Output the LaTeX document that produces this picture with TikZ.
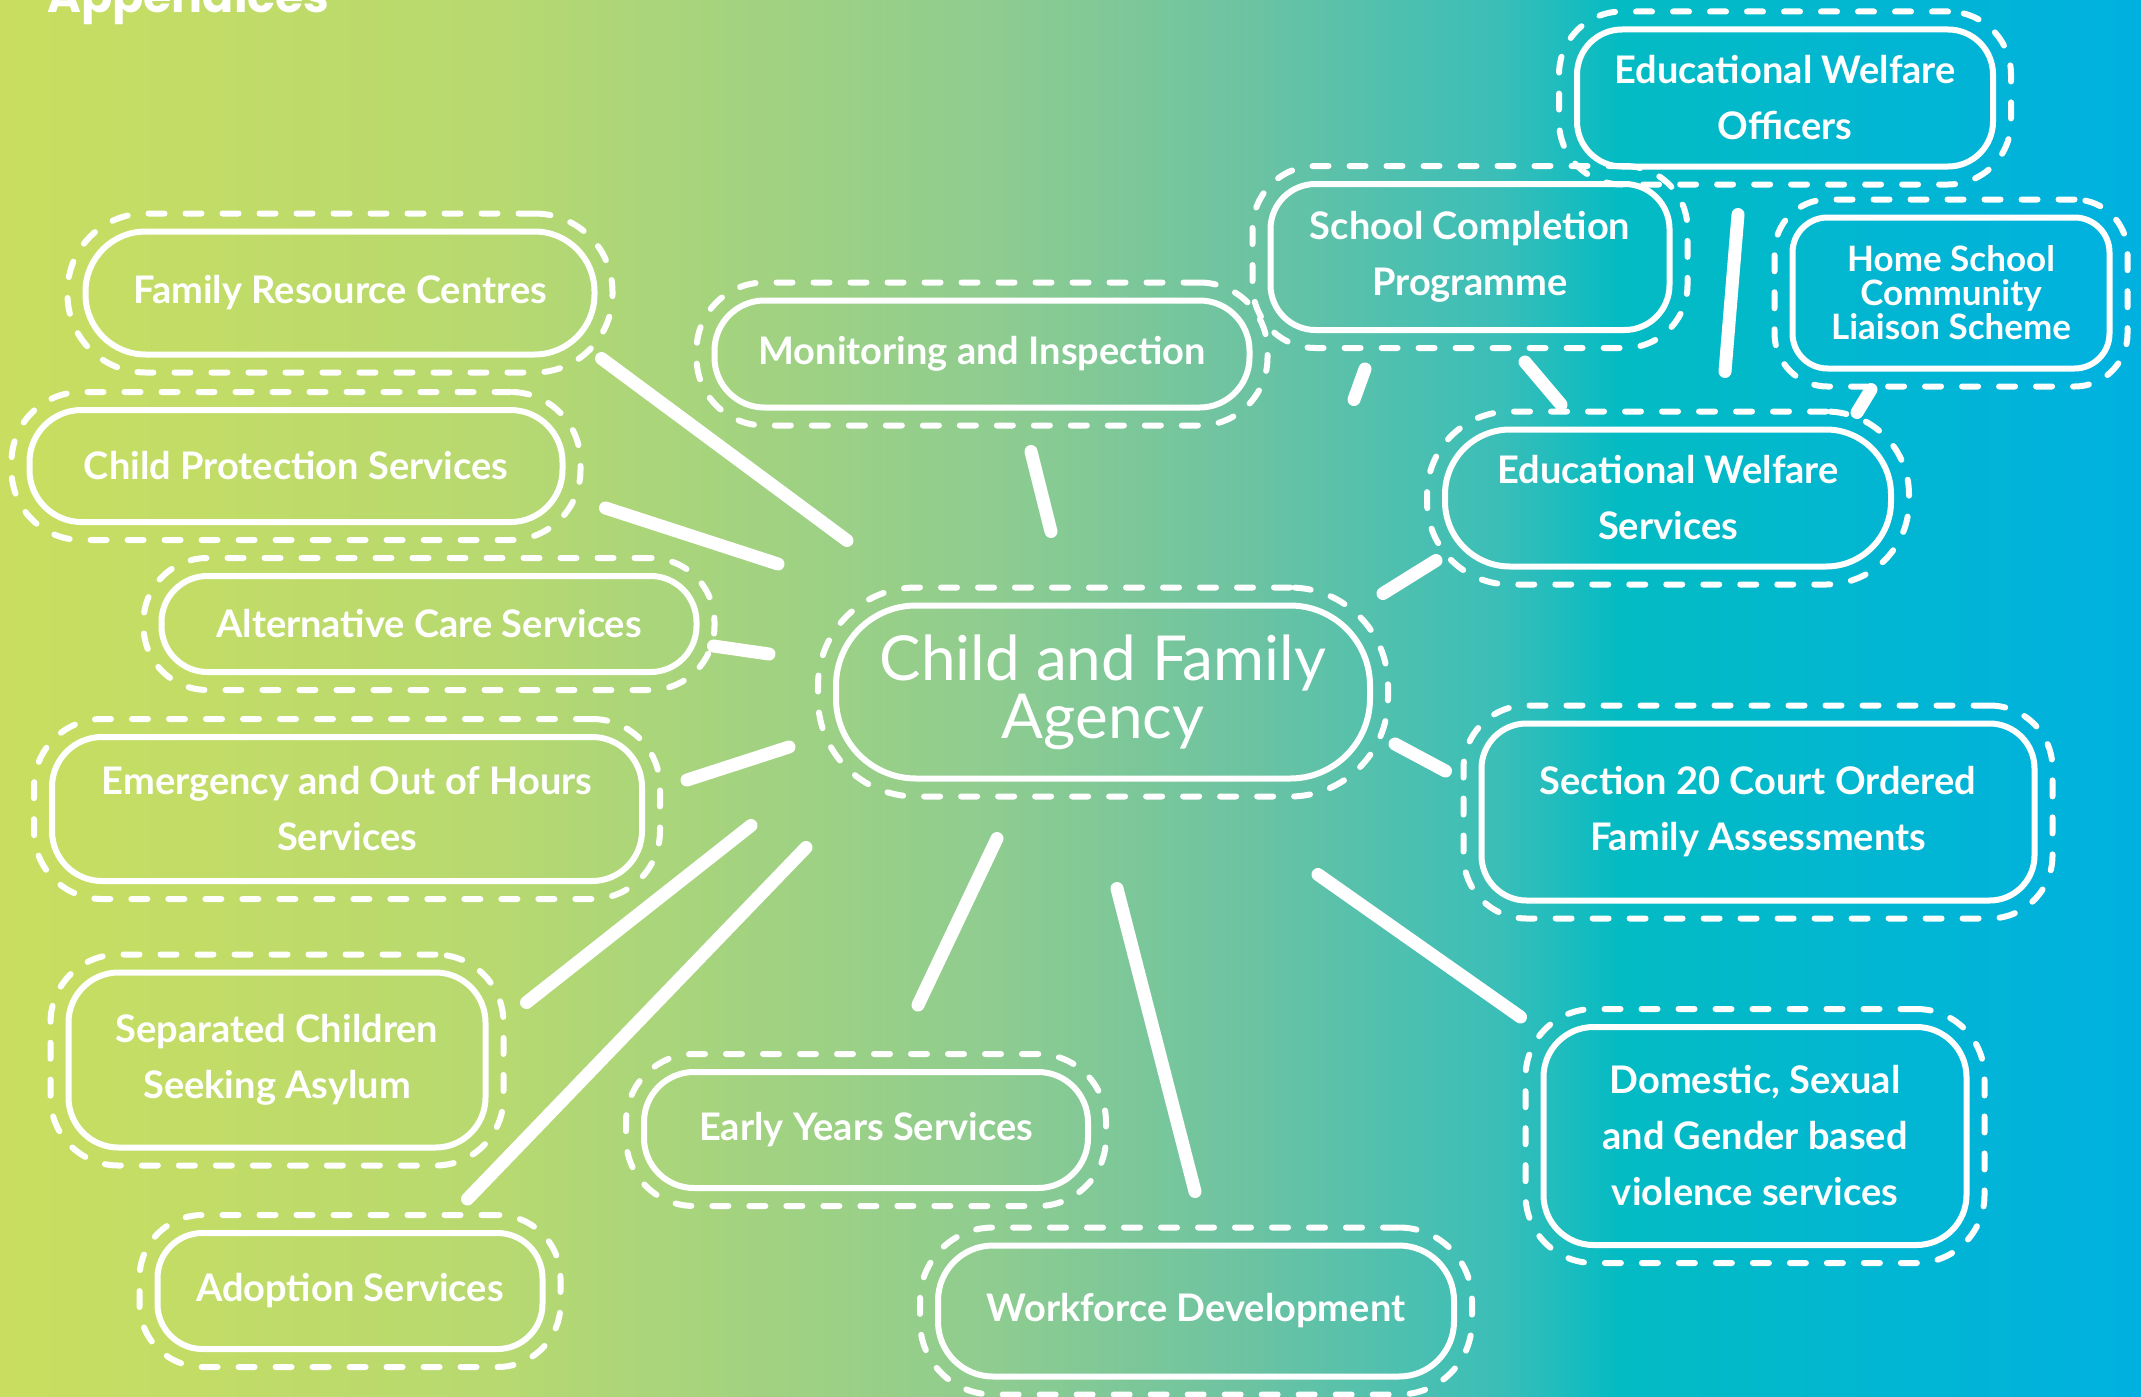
\documentclass[tikz,border=0pt]{standalone}
\usepackage{fontspec}
\setmainfont{Lato}
\newfontfamily\titlefont{Poppins}
\usetikzlibrary{fit}
\definecolor{g0}{RGB}{201,222,96}
\definecolor{g1}{RGB}{183,217,112}
\definecolor{g2}{RGB}{142,204,144}
\definecolor{g3}{RGB}{108,195,162}
\definecolor{g4}{RGB}{58,190,184}
\definecolor{g5}{RGB}{3,187,195}
\definecolor{g6}{RGB}{0,177,224}
\pgfdeclarehorizontalshading{bgshade}{100bp}{color(0bp)=(g0); color(25bp)=(g0); color(36.68bp)=(g1); color(48.35bp)=(g2); color(54.19bp)=(g3); color(60.03bp)=(g4); color(62.83bp)=(g5); color(75bp)=(g6); color(100bp)=(g6)}
\newcommand\nodefont{\bfseries\fontsize{38}{56}\selectfont}
\newcommand\bub[7][]{%
  \node[bubin,minimum width=#4,minimum height=#5,rounded corners=#6,#1] (#2) at (#3) {#7};
  \node[bubout,rounded corners=#6+18pt,fit=(#2)] (#2-ring) {};
}
\tikzset{
  bubin/.style={draw=white, line width=6pt, text=white, align=center, inner sep=0pt, outer sep=0pt, font=\nodefont},
  bubout/.style={draw=white, line width=6pt, dash pattern=on 16pt off 21pt, line cap=round, inner sep=18pt, outer sep=0pt},
  link/.style={draw=white, line width=13pt, line cap=round},
}
\begin{document}
\begin{tikzpicture}[x=1pt,y=-1pt]
\useasboundingbox (0,0) rectangle (2141,1397);
\clip (0,0) rectangle (2141,1397);
\shade[shading=bgshade] (0,0) rectangle (2141,1397);
\node[anchor=base west, text=white, inner sep=0pt, font=\titlefont\bfseries\fontsize{46}{46}\selectfont] (title) at (47,13) {Appendices};

\bub[font=\fontsize{62}{58}\selectfont]{cfa}{1103,692}{534pt}{173pt}{80pt}{Child and Family\\Agency}
\bub{frc}{340,293}{509pt}{123pt}{60pt}{Family Resource Centres}
\bub{cps}{296,466}{533pt}{112pt}{52pt}{Child Protection Services}
\bub{acs}{429,624}{535pt}{96pt}{46pt}{Alternative Care Services}
\bub{eoh}{347,809}{590pt}{144pt}{50pt}{Emergency and Out of Hours\\Services}
\bub{sca}{277,1060}{417pt}{175pt}{50pt}{Separated Children\\Seeking Asylum}
\bub{ads}{350,1291}{385pt}{116pt}{45pt}{Adoption Services}
\bub{eys}{866,1130}{444pt}{116pt}{50pt}{Early Years Services}
\bub{wfd}{1196,1311}{516pt}{131pt}{55pt}{Workforce Development}
\bub{mai}{982,354}{535pt}{107pt}{50pt}{Monitoring and Inspection}
\bub{scp}{1470,257}{399pt}{146pt}{45pt}{School Completion\\Programme}
\bub{ewo}{1785,98}{416pt}{137pt}{45pt}{Educational Welfare\\Officers}
\bub[font=\bfseries\fontsize{35}{34}\selectfont]{hsc}{1951,293}{317pt}{151pt}{35pt}{Home School\\Community\\Liaison Scheme}
\bub{ews}{1668,498}{446pt}{137pt}{65pt}{Educational Welfare\\Services}
\bub{s20}{1758,812}{553pt}{177pt}{45pt}{Section 20 Court Ordered\\Family Assessments}
\bub{dsg}{1755,1136}{423pt}{218pt}{50pt}{Domestic, Sexual\\and Gender based\\violence services}

\draw[link] ([shift={(7,4)}]frc.south east) -- ([shift={(11,-65)}]cfa.north west);
\draw[link] ([shift={(43,42)}]cps.east) -- ([shift={(-58,-128)}]cfa.west);
\draw[link] ([shift={(17,22)}]acs.east) -- ([shift={(-67,-38)}]cfa.west);
\draw[link] ([shift={(45,-29)}]eoh.east) -- ([shift={(-47,55)}]cfa.west);
\draw[link] ([shift={(41,30)}]sca.north east) -- ([shift={(-85,47)}]cfa.south west);
\draw[link] ([shift={(-75,-34)}]ads.north east) -- ([shift={(-30,69)}]cfa.south west);
\draw[link] ([shift={(52,-67)}]eys.north) -- ([shift={(-106,60)}]cfa.south);
\draw[link] ([shift={(-1,-54)}]wfd.north) -- ([shift={(14,110)}]cfa.south);
\draw[link] ([shift={(49,44)}]mai.south) -- ([shift={(-52,-74)}]cfa.north);
\draw[link] ([shift={(-9,-6)}]ews.south west) -- ([shift={(13,-12)}]cfa.north east);
\draw[link] ([shift={(-36,-41)}]s20.west) -- ([shift={(25,52)}]cfa.east);
\draw[link] ([shift={(-23,-10)}]dsg.north west) -- ([shift={(-52,96)}]cfa.south east);
\draw[link] ([shift={(-105,39)}]scp.south) -- ([shift={(-16,-206)}]cfa.north east);
\draw[link] ([shift={(55,32)}]scp.south) -- ([shift={(-107,-25)}]ews.north);
\draw[link] ([shift={(-47,48)}]ewo.south) -- ([shift={(57,-58)}]ews.north);
\draw[link] ([shift={(-80,21)}]hsc.south) -- ([shift={(-34,-17)}]ews.north east);
\end{tikzpicture}
\end{document}
